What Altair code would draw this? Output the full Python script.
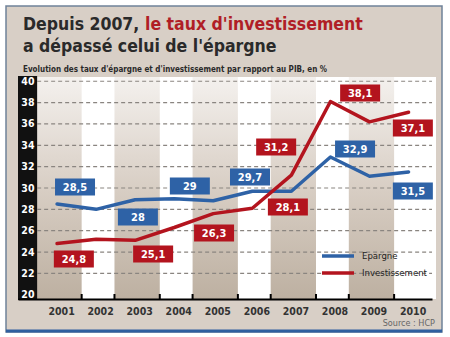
import altair as alt
import pandas as pd

# ---------------- data ----------------
years = [2001, 2002, 2003, 2004, 2005, 2006, 2007, 2008, 2009, 2010]
epargne = [28.5, 28.0, 28.9, 29.0, 28.8, 29.7, 29.7, 32.9, 31.1, 31.5]
investissement = [24.8, 25.2, 25.1, 26.3, 27.6, 28.1, 31.2, 38.1, 36.2, 37.1]
series = ["Epargne", "Investissement"]
y_ticks = [20, 22, 24, 26, 28, 30, 32, 34, 36, 38, 40]

# which points carry a value box
lab_series = ["Epargne"] * 6 + ["Investissement"] * 7
lab_years = [2001, 2002, 2004, 2006, 2008, 2010, 2001, 2003, 2004, 2006, 2007, 2008, 2010]

title_dark = "Depuis 2007,"
title_red = "le taux d'investissement"
title_line2 = "a dépassé celui de l'épargne"
subtitle = "Evolution des taux d'épargne et d'investissement par rapport au PIB, en %"
source = "Source : HCP"

# ---------------- layout / style ----------------
# box placement offsets relative to the point (years, percentage points)
lab_dx = [0.46, 1.07, 0.40, -0.06, 0.63, 0.11, 0.43, 0.46, 1.02, 0.91, -0.39, 0.76, 0.11]
lab_dy = [1.59, -0.72, 1.19, 1.33, 0.75, -1.78, -1.45, -1.28, -0.52, 0.12, 2.64, 0.80, -1.48]

W, H = 414, 222
X0, X1 = 2000.0, 2010.6
Y0, Y1 = 19.6, 40.4
STRIP_END = 2000.49
BOX_HW = 20 / (W / (X1 - X0))
BOX_HH = 8.5 / (H / (Y1 - Y0))

NARROW = "DejaVu Sans Condensed, Liberation Sans Narrow, sans-serif"
BLUE = "#2e62a6"
RED = "#b3141e"
BEIGE = "#d8cfc6"
DARK = "#2a2a2a"

xs = alt.Scale(domain=[X0, X1], nice=False, zero=False)
ys = alt.Scale(domain=[Y0, Y1], nice=False, zero=False)

x_axis = alt.Axis(values=years, format="d", title=None, grid=False, ticks=False,
                  domainColor="black", domainWidth=2, labelFont=NARROW, labelFontSize=10.5,
                  labelFontWeight="bold", labelColor="#333333", labelPadding=7, labelOffset=4,
                  labelFlush=False, labelOverlap=False, zindex=2)
y_axis = alt.Axis(values=y_ticks, title=None, grid=False, ticks=False, domain=False,
                  labelFont=NARROW, labelFontSize=10.5, labelFontWeight="bold", labelColor="white",
                  labelPadding=-16, labelOverlap=False, labelFlush=False, zindex=2)


def X(field):
    return alt.X(field, scale=xs, axis=x_axis)


def Y(field):
    return alt.Y(field, scale=ys, axis=y_axis)


# ---------------- tables ----------------
lines_df = pd.DataFrame({
    "year": years * 2,
    "serie": [series[0]] * len(years) + [series[1]] * len(years),
    "value": epargne + investissement,
})

lookup = {(s, y): v for s, y, v in zip(lines_df.serie, lines_df.year, lines_df.value)}
lab_vals = [lookup[(s, y)] for s, y in zip(lab_series, lab_years)]
lab_df = pd.DataFrame({"serie": lab_series, "year": lab_years, "value": lab_vals})
lab_df["lx"] = lab_df.year + pd.Series(lab_dx)
lab_df["ly"] = lab_df.value + pd.Series(lab_dy)
lab_df["lx1"] = lab_df.lx - BOX_HW
lab_df["lx2"] = lab_df.lx + BOX_HW
lab_df["ly1"] = lab_df.ly - BOX_HH
lab_df["ly2"] = lab_df.ly + BOX_HH
lab_df["txt"] = [("%g" % v).replace(".", ",") for v in lab_df.value]
lab_df["fill"] = [BLUE if s == series[0] else RED for s in lab_df.serie]

odd_years = [y for y in years if y % 2 == 1]
bands_df = pd.DataFrame({
    "b1": [y - 0.53 for y in odd_years],
    "b2": [min(y + 0.63, X1) for y in odd_years],
})
ticks_x = sorted([y + 0.63 for y in odd_years] + [y + 1.47 for y in odd_years[:-1]])
ticks_df = pd.DataFrame({"t": ticks_x})
grid_df = pd.DataFrame({"v": y_ticks[1:], "g1": STRIP_END, "g2": X1})
strip_df = pd.DataFrame({"s1": [X0], "s2": [STRIP_END]})
one = pd.DataFrame({"a": [0]})

# ---------------- layers ----------------
frame = alt.Chart(one).mark_rect(fill=BEIGE, stroke="#6f8299", strokeWidth=1.5).encode(
    x=alt.value(-12), x2=alt.value(424), y=alt.value(-71), y2=alt.value(255))
frame_bottom = alt.Chart(one).mark_rule(color="#2f5f9f", strokeWidth=3).encode(
    x=alt.value(-12), x2=alt.value(424), y=alt.value(254))
plot_bg = alt.Chart(one).mark_rect(fill="white").encode(
    x=alt.value(0), x2=alt.value(W + 4), y=alt.value(0), y2=alt.value(H))

grad = alt.LinearGradient(
    gradient="linear",
    stops=[alt.GradientStop(color="#f4f1ee", offset=0),
           alt.GradientStop(color="#d8cec4", offset=0.5),
           alt.GradientStop(color="#bdb0a1", offset=1)],
    x1=0, x2=0, y1=0, y2=1)
bands = alt.Chart(bands_df).mark_rect(fill=grad).encode(
    x=X("b1:Q"), x2="b2:Q", y=alt.value(0), y2=alt.value(H))

strip = alt.Chart(strip_df).mark_rect(fill="#111111").encode(
    x=X("s1:Q"), x2="s2:Q", y=alt.value(-1), y2=alt.value(H + 1))

grid = alt.Chart(grid_df).mark_rule(color="#8a8580", strokeWidth=1.2, strokeDash=[4, 3]).encode(
    x=X("g1:Q"), x2="g2:Q", y=Y("v:Q"))

ticks = alt.Chart(ticks_df).mark_rule(color="black", strokeWidth=2).encode(
    x=X("t:Q"), y=alt.value(H), y2=alt.value(H - 5))

lines = alt.Chart(lines_df).mark_line(strokeWidth=3.5, strokeCap="round", strokeJoin="round").encode(
    x=X("year:Q"),
    y=Y("value:Q"),
    color=alt.Color("serie:N", scale=alt.Scale(domain=series, range=[BLUE, RED]),
                    legend=alt.Legend(title=None, orient="none", legendX=318, legendY=169,
                                      symbolType="M-3,0L1,0", symbolSize=256,
                                      symbolStrokeWidth=3.5, symbolFillColor="transparent",
                                      labelFont=NARROW, labelFontSize=9.5, labelColor="#222222",
                                      labelOffset=6, rowPadding=0, padding=0)),
)

boxes = alt.Chart(lab_df).mark_rect().encode(
    x=X("lx1:Q"), x2="lx2:Q", y=Y("ly1:Q"), y2="ly2:Q",
    color=alt.Color("fill:N", scale=None))
box_text = alt.Chart(lab_df).mark_text(font=NARROW, fontSize=11, fontWeight="bold", color="white",
                                       baseline="middle", dy=1).encode(
    x=X("lx:Q"), y=Y("ly:Q"), text="txt:N")

TFS = 17.5
t1 = alt.Chart(one).mark_text(text=title_dark, font=NARROW, fontSize=TFS, fontWeight="bold",
                              color=DARK, align="left", baseline="alphabetic").encode(
    x=alt.value(5), y=alt.value(-47))
t2 = alt.Chart(one).mark_text(text=title_red, font=NARROW, fontSize=TFS, fontWeight="bold",
                              color="#b01e26", align="left", baseline="alphabetic").encode(
    x=alt.value(127), y=alt.value(-47))
t3 = alt.Chart(one).mark_text(text=title_line2, font=NARROW, fontSize=TFS, fontWeight="bold",
                              color=DARK, align="left", baseline="alphabetic").encode(
    x=alt.value(5), y=alt.value(-25))
st = alt.Chart(one).mark_text(text=subtitle, font=NARROW, fontSize=8, fontWeight="bold",
                              color=DARK, align="left", baseline="alphabetic").encode(
    x=alt.value(5), y=alt.value(-5))
src = alt.Chart(one).mark_text(text=source, font=NARROW, fontSize=9, color="#666666",
                               align="right", baseline="alphabetic").encode(
    x=alt.value(417), y=alt.value(249))

chart = alt.layer(
    frame, frame_bottom, plot_bg, bands, strip, grid, ticks, lines, boxes, box_text,
    t1, t2, t3, st, src,
).properties(
    width=W, height=H,
    autosize=alt.AutoSizeParams(type="none"),
    padding={"left": 18, "top": 77, "right": 18, "bottom": 38},
).configure_view(strokeOpacity=0)

chart.save("out.html", embed_options={"renderer": "svg", "actions": False})
